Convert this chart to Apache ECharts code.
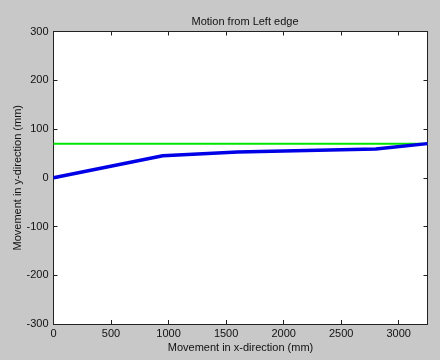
<!DOCTYPE html>
<html>
<head>
<meta charset="utf-8">
<script src="https://cdn.jsdelivr.net/npm/echarts@6/dist/echarts.min.js"></script>
<style>
  html, body { margin: 0; padding: 0; background: #c8c8c8; }
  #chart { width: 440px; height: 360px; }
</style>
</head>
<body>
<div id="chart"></div>
<script>
const blueX = [0, 950, 1600, 2800, 3250];
const blueY = [0, 45, 53, 59, 70];
const greenX = [0, 3250];
const greenY = [70, 70];
const xTicks = [0, 500, 1000, 1500, 2000, 2500, 3000];
const yTicks = [-300, -200, -100, 0, 100, 200, 300];

const font = "Liberation Sans, Arial, sans-serif";
const axisColor = "#222";

const chart = echarts.init(document.getElementById("chart"));

const baseAxis = {
  axisLine: { show: true, onZero: false, lineStyle: { color: axisColor, width: 1 } },
  axisTick: { show: true, inside: true, length: 4, lineStyle: { color: axisColor } },
  splitLine: { show: false },
};

chart.setOption({
  backgroundColor: "#c8c8c8",
  animation: false,
  title: {
    text: "Motion from Left edge",
    left: 240,
    top: 11,
    textAlign: "center",
    textStyle: { fontFamily: font, fontSize: 11, fontWeight: "normal", color: "#111" },
  },
  grid: {
    left: 53.5, right: 12.5, top: 31.5, bottom: 36,
    outerBoundsMode: "none", containLabel: false,
    backgroundColor: "#fff", show: true, borderWidth: 0,
  },
  xAxis: [
    {
      ...baseAxis,
      type: "value",
      min: xTicks[0],
      max: 3250,
      interval: 500,
      position: "bottom",
      name: "Movement in x-direction (mm)",
      nameLocation: "middle",
      nameGap: 18,
      nameMoveOverlap: false,
      nameTextStyle: { fontFamily: font, fontSize: 11, color: "#111" },
      axisLabel: {
        fontFamily: font, fontSize: 11, color: "#111", margin: 4, showMaxLabel: false,
        formatter: (v) => String(v),
      },
    },
    {
      ...baseAxis,
      type: "value",
      min: xTicks[0],
      max: 3250,
      interval: 500,
      position: "top",
      axisLabel: { show: false },
    },
  ],
  yAxis: [
    {
      ...baseAxis,
      type: "value",
      min: yTicks[0],
      max: yTicks[yTicks.length - 1],
      interval: 100,
      position: "left",
      name: "Movement in y-direction (mm)",
      nameLocation: "middle",
      nameRotate: 90,
      nameGap: 30,
      nameMoveOverlap: false,
      nameTextStyle: { fontFamily: font, fontSize: 11, color: "#111" },
      axisLabel: { fontFamily: font, fontSize: 11, color: "#111", margin: 5, formatter: (v) => String(v) },
    },
    {
      ...baseAxis,
      type: "value",
      min: yTicks[0],
      max: yTicks[yTicks.length - 1],
      interval: 100,
      position: "right",
      axisLabel: { show: false },
    },
  ],
  series: [
    {
      type: "line",
      data: greenX.map((x, i) => [x, greenY[i]]),
      showSymbol: false,
      lineStyle: { color: "#00e600", width: 2 },
      z: 2,
    },
    {
      type: "line",
      data: blueX.map((x, i) => [x, blueY[i]]),
      showSymbol: false,
      lineStyle: { color: "#0000e6", width: 3.5 },
      z: 3,
    },
  ],
});
</script>
</body>
</html>
